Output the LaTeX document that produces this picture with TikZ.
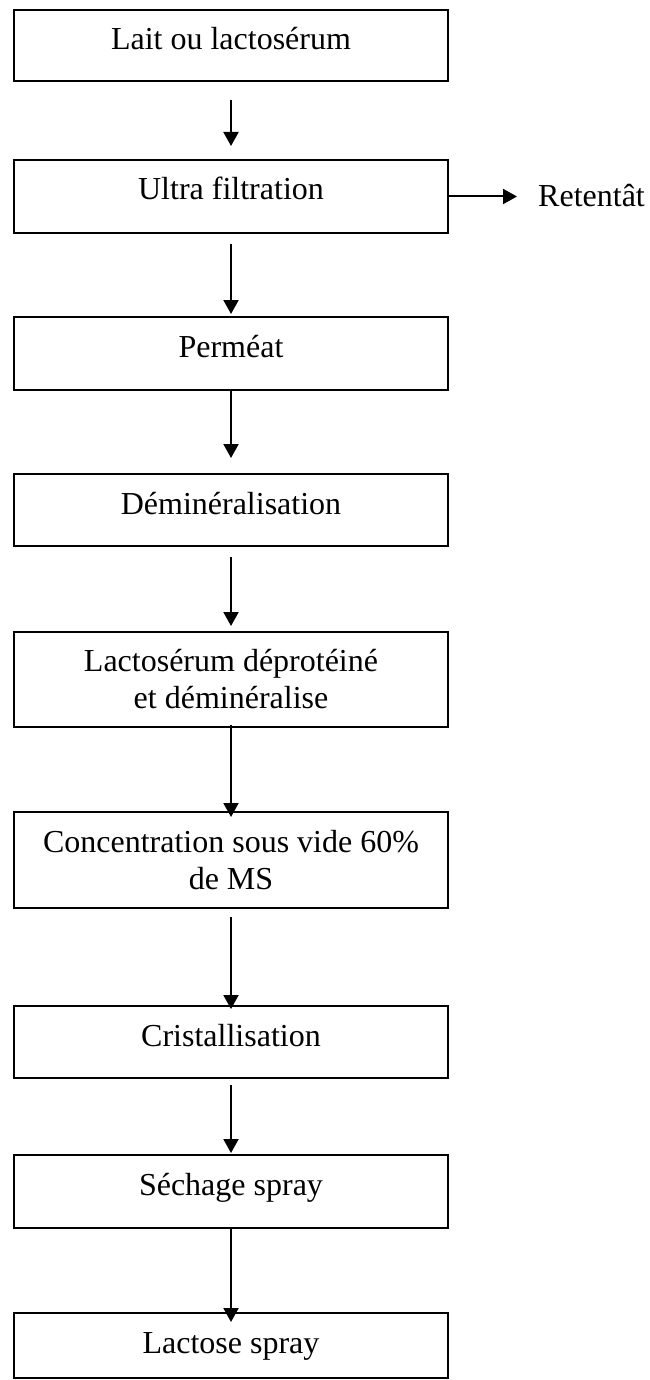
\documentclass[tikz,border=0pt]{standalone}
\usepackage{fontspec}
\setmainfont{Liberation Serif}
\usetikzlibrary{arrows.meta}

\begin{document}
\begin{tikzpicture}[x=1pt, y=-1pt,
  stepbox/.style={draw, line width=2pt, rectangle, inner sep=0pt,
                  minimum width=434pt},
  label/.style={inner sep=0pt, anchor=base,
                font=\fontsize{32}{37}\selectfont},
  flow/.style={line width=2pt, -{Triangle[length=14pt, width=15pt]}}]

\useasboundingbox (0,0) rectangle (649,1380);

% process boxes (centre x = 231)
\node[stepbox, minimum height=71pt] (b1) at (231,45.5)  {};
\node[stepbox, minimum height=73pt] (b2) at (231,196.5) {};
\node[stepbox, minimum height=73pt] (b3) at (231,353.5) {};
\node[stepbox, minimum height=72pt] (b4) at (231,510)   {};
\node[stepbox, minimum height=95pt] (b5) at (231,679.5) {};
\node[stepbox, minimum height=96pt] (b6) at (231,860)   {};
\node[stepbox, minimum height=72pt] (b7) at (231,1042)  {};
\node[stepbox, minimum height=73pt] (b8) at (231,1191.5){};
\node[stepbox, minimum height=65pt] (b9) at (231,1345.5){};

% box texts
\node[label] (t1)  at (231,50)   {Lait ou lactosérum};
\node[label] (t2)  at (231,200)  {Ultra filtration};
\node[label] (t3)  at (231,357)  {Perméat};
\node[label] (t4)  at (231,514)  {Déminéralisation};
\node[label] (t5a) at (231,671)  {Lactosérum déprotéiné};
\node[label] (t5b) at (231,708)  {et déminéralise};
\node[label] (t6a) at (231,852)  {Concentration sous vide 60\%};
\node[label] (t6b) at (231,889)  {de MS};
\node[label] (t7)  at (231,1046) {Cristallisation};
\node[label] (t8)  at (231,1195) {Séchage spray};
\node[label] (t9)  at (231,1353) {Lactose spray};

% side output
\node[label, anchor=base west] (ret) at (538,207) {Retentât};

% flow arrows
\draw[flow, shorten <=18pt, shorten >=13pt] (b1) -- (b2);
\draw[flow, shorten <=10pt, shorten >=2pt]  (b2) -- (b3);
\draw[flow, shorten <=-2pt, shorten >=15pt] (b3) -- (b4);
\draw[flow, shorten <=10pt, shorten >=5pt]  (b4) -- (b5);
\draw[flow, shorten <=-3pt, shorten >=-6pt] (b5) -- (b6);
\draw[flow, shorten <=8pt,  shorten >=-4pt] (b6) -- (b7);
\draw[flow, shorten <=6pt,  shorten >=1pt]  (b7) -- (b8);
\draw[flow, shorten <=0pt,  shorten >=-10pt](b8) -- (b9);
\draw[flow, shorten >=21pt] (b2.east) -- (b2.east -| ret.west);

\end{tikzpicture}
\end{document}
